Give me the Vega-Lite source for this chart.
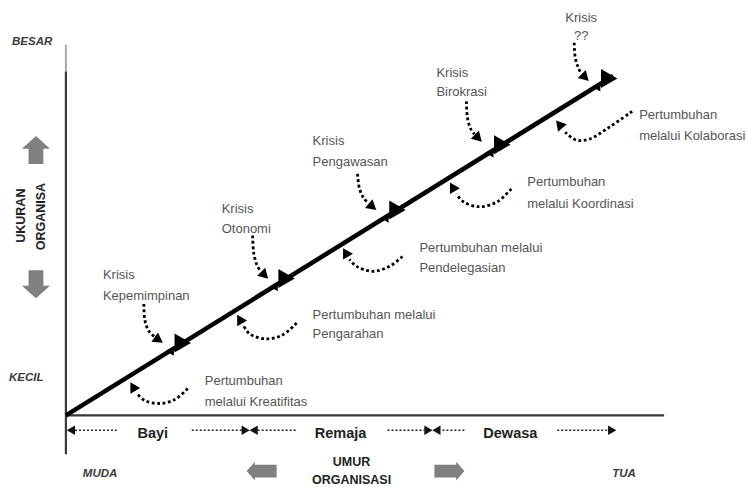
{
  "$schema": "https://vega.github.io/schema/vega-lite/v6.json",
  "width": 746,
  "height": 487,
  "autosize": {"type": "fit", "contains": "padding"},
  "padding": 0,
  "background": "white",
  "config": {"view": {"stroke": null}},
  "datasets": {
    "axisDark": [{"x": 0, "y": 86.5, "x2": 0, "y2": -9.75}, {"x": 0, "y": 0, "x2": 99.83, "y2": 0}],
    "axisTop": [{"x": 0, "y": 93.25, "x2": 0, "y2": 86.5}],
    "growthLine": [{"x": 0, "y": 0, "x2": 91.33, "y2": 85.38}],
    "stageDots": [
      {"x": 1.5, "x2": 8.5, "y": -3.75}, {"x": 21, "x2": 29.5, "y": -3.75},
      {"x": 32, "x2": 38.5, "y": -3.75}, {"x": 53.67, "x2": 59.83, "y": -3.75},
      {"x": 62.83, "x2": 66.83, "y": -3.75}, {"x": 82, "x2": 90.33, "y": -3.75}
    ],
    "curves": [
      {"id": "c1", "i": 0, "x": 13, "y": 28}, {"id": "c1", "i": 1, "x": 13.17, "y": 24}, {"id": "c1", "i": 2, "x": 13.83, "y": 21.25}, {"id": "c1", "i": 3, "x": 14.83, "y": 19.75},
      {"id": "c2", "i": 0, "x": 31.17, "y": 45.25}, {"id": "c2", "i": 1, "x": 31.33, "y": 41}, {"id": "c2", "i": 2, "x": 31.83, "y": 38}, {"id": "c2", "i": 3, "x": 32.5, "y": 36.25},
      {"id": "c3", "i": 0, "x": 48.67, "y": 60.75}, {"id": "c3", "i": 1, "x": 49, "y": 57}, {"id": "c3", "i": 2, "x": 49.67, "y": 54.75}, {"id": "c3", "i": 3, "x": 50.5, "y": 53.25},
      {"id": "c4", "i": 0, "x": 66.83, "y": 79}, {"id": "c4", "i": 1, "x": 67, "y": 75}, {"id": "c4", "i": 2, "x": 67.5, "y": 72.25}, {"id": "c4", "i": 3, "x": 68.17, "y": 70.75},
      {"id": "c5", "i": 0, "x": 84.83, "y": 93.75}, {"id": "c5", "i": 1, "x": 85, "y": 90}, {"id": "c5", "i": 2, "x": 85.5, "y": 87.5}, {"id": "c5", "i": 3, "x": 86, "y": 86},
      {"id": "g1", "i": 0, "x": 20.33, "y": 6.75}, {"id": "g1", "i": 1, "x": 18.17, "y": 4}, {"id": "g1", "i": 2, "x": 15.67, "y": 3}, {"id": "g1", "i": 3, "x": 13.17, "y": 3.75}, {"id": "g1", "i": 4, "x": 11.83, "y": 5.5},
      {"id": "g2", "i": 0, "x": 38.5, "y": 23.25}, {"id": "g2", "i": 1, "x": 36.17, "y": 20.25}, {"id": "g2", "i": 2, "x": 33.5, "y": 19.25}, {"id": "g2", "i": 3, "x": 30.67, "y": 20.5}, {"id": "g2", "i": 4, "x": 29.67, "y": 22.5},
      {"id": "g3", "i": 0, "x": 56.17, "y": 40}, {"id": "g3", "i": 1, "x": 54, "y": 37.5}, {"id": "g3", "i": 2, "x": 51.17, "y": 36.25}, {"id": "g3", "i": 3, "x": 48.5, "y": 37.5}, {"id": "g3", "i": 4, "x": 47.33, "y": 39.25},
      {"id": "g4", "i": 0, "x": 74.33, "y": 57}, {"id": "g4", "i": 1, "x": 72, "y": 53.75}, {"id": "g4", "i": 2, "x": 69, "y": 52.5}, {"id": "g4", "i": 3, "x": 66.33, "y": 53.75}, {"id": "g4", "i": 4, "x": 65.17, "y": 55.75},
      {"id": "g5", "i": 0, "x": 94.5, "y": 76.5}, {"id": "g5", "i": 1, "x": 90.67, "y": 72.5}, {"id": "g5", "i": 2, "x": 87.33, "y": 69.5}, {"id": "g5", "i": 3, "x": 85.17, "y": 69.25}, {"id": "g5", "i": 4, "x": 83.33, "y": 71.25}
    ],
    "heads": [
      {"x": 15.5, "y": 19, "dir": 125}, {"x": 33.17, "y": 35.25, "dir": 135}, {"x": 51.17, "y": 52.5, "dir": 130},
      {"x": 68.83, "y": 69.75, "dir": 135}, {"x": 86.67, "y": 85, "dir": 135},
      {"x": 11.17, "y": 7.25, "dir": 330}, {"x": 29, "y": 24.25, "dir": 330}, {"x": 46.67, "y": 41, "dir": 330},
      {"x": 64.5, "y": 57.5, "dir": 330}, {"x": 82.33, "y": 73.25, "dir": 320}
    ],
    "bigTri": [
      {"x": 19.5, "y": 18.23}, {"x": 36.83, "y": 34.43}, {"x": 55.33, "y": 51.7}, {"x": 72.83, "y": 68.08}, {"x": 90.67, "y": 84.75}
    ],
    "notch": [
      {"x": 17.33, "y": 16.2}, {"x": 34.67, "y": 32.4}, {"x": 53.17, "y": 49.68}, {"x": 70.67, "y": 66.05}, {"x": 88.5, "y": 82.7}
    ],
    "stageLeft": [{"x": 0.83, "y": -3.75}, {"x": 31.33, "y": -3.75}, {"x": 61.83, "y": -3.75}],
    "stageRight": [{"x": 30, "y": -3.75}, {"x": 60.5, "y": -3.75}, {"x": 91.17, "y": -3.75}],
    "blockV": [{"x": -5, "y": 66.75, "dir": 0}, {"x": -5, "y": 33, "dir": 180}],
    "blockH": [{"x": 32.67, "y": -14, "dir": 0}, {"x": 64, "y": -14, "dir": 180}],
    "grayText": [
      {"x": 6.17, "y": 35.25, "t": "Krisis"}, {"x": 6.17, "y": 30, "t": "Kepemimpinan"},
      {"x": 26, "y": 52, "t": "Krisis"}, {"x": 26, "y": 47, "t": "Otonomi"},
      {"x": 41.17, "y": 69, "t": "Krisis"}, {"x": 41.17, "y": 63.75, "t": "Pengawasan"},
      {"x": 61.83, "y": 86.25, "t": "Krisis"}, {"x": 61.83, "y": 81.25, "t": "Birokrasi"},
      {"x": 23.17, "y": 8.75, "t": "Pertumbuhan"}, {"x": 23.17, "y": 3.5, "t": "melalui Kreatifitas"},
      {"x": 41.17, "y": 25.25, "t": "Pertumbuhan melalui"}, {"x": 41.17, "y": 20.5, "t": "Pengarahan"},
      {"x": 59, "y": 42, "t": "Pertumbuhan melalui"}, {"x": 59, "y": 37, "t": "Pendelegasian"},
      {"x": 77, "y": 58.75, "t": "Pertumbuhan"}, {"x": 77, "y": 53.25, "t": "melalui Koordinasi"},
      {"x": 95.67, "y": 75.5, "t": "Pertumbuhan"}, {"x": 95.67, "y": 70.25, "t": "melalui Kolaborasi"}
    ],
    "grayTextC": [{"x": 86, "y": 100, "t": "Krisis"}, {"x": 86, "y": 95.5, "t": "??"}],
    "italicText": [
      {"x": -9, "y": 94, "t": "BESAR"}, {"x": -9.5, "y": 9.5, "t": "KECIL"},
      {"x": 2.83, "y": -14.75, "t": "MUDA"}, {"x": 91.17, "y": -14.75, "t": "TUA"}
    ],
    "stageText": [{"x": 14.5, "y": -4.6, "t": "Bayi"}, {"x": 45.83, "y": -4.6, "t": "Remaja"}, {"x": 74.17, "y": -4.6, "t": "Dewasa"}],
    "ageText": [{"x": 47.67, "y": -11.75, "t": "UMUR"}, {"x": 47.67, "y": -16.25, "t": "ORGANISASI"}],
    "sizeText": [{"x": -7.5, "y": 50.25, "t": "UKURAN"}, {"x": -4.17, "y": 50, "t": "ORGANISA"}]
  },
  "encoding": {
    "x": {"field": "x", "type": "quantitative", "scale": {"domain": [-11, 113.333], "nice": false, "zero": false}, "axis": null},
    "y": {"field": "y", "type": "quantitative", "scale": {"domain": [-17.25, 104.5], "nice": false, "zero": false}, "axis": null}
  },
  "layer": [
    {"data": {"name": "axisTop"}, "mark": {"type": "rule", "stroke": "#aaaaaa", "strokeWidth": 2},
     "encoding": {"x2": {"field": "x2"}, "y2": {"field": "y2"}}},
    {"data": {"name": "axisDark"}, "mark": {"type": "rule", "stroke": "#3a3a3a", "strokeWidth": 2.2},
     "encoding": {"x2": {"field": "x2"}, "y2": {"field": "y2"}}},
    {"data": {"name": "growthLine"}, "mark": {"type": "rule", "stroke": "#000000", "strokeWidth": 4.5},
     "encoding": {"x2": {"field": "x2"}, "y2": {"field": "y2"}}},
    {"data": {"name": "stageDots"}, "mark": {"type": "rule", "stroke": "#222222", "strokeWidth": 1.5, "strokeDash": [2, 2]},
     "encoding": {"x2": {"field": "x2"}}},
    {"data": {"name": "curves"}, "mark": {"type": "line", "stroke": "#000000", "strokeWidth": 2.8, "strokeDash": [2.8, 2.6], "interpolate": "catmull-rom"},
     "encoding": {"detail": {"field": "id"}, "order": {"field": "i", "type": "quantitative"}}},
    {"data": {"name": "heads"}, "mark": {"type": "point", "shape": "triangle-up", "filled": true, "color": "#000000", "size": 130, "opacity": 1},
     "encoding": {"angle": {"field": "dir", "type": "quantitative", "scale": null}}},
    {"data": {"name": "notch"}, "mark": {"type": "point", "shape": "triangle-left", "filled": true, "color": "#000000", "size": 90, "opacity": 1}},
    {"data": {"name": "bigTri"}, "mark": {"type": "point", "shape": "triangle-right", "filled": true, "color": "#000000", "size": 360, "opacity": 1}},
    {"data": {"name": "stageLeft"}, "mark": {"type": "point", "shape": "triangle-left", "filled": true, "color": "#111111", "size": 90, "opacity": 1}},
    {"data": {"name": "stageRight"}, "mark": {"type": "point", "shape": "triangle-right", "filled": true, "color": "#111111", "size": 90, "opacity": 1}},
    {"data": {"name": "blockV"}, "mark": {"type": "point", "shape": "M0,-1L1,-0.1L0.53,-0.1L0.53,1L-0.53,1L-0.53,-0.1L-1,-0.1Z", "filled": true, "color": "#808080", "size": 784, "opacity": 1},
     "encoding": {"angle": {"field": "dir", "type": "quantitative", "scale": null}}},
    {"data": {"name": "blockH"}, "mark": {"type": "point", "shape": "M-1,0L-0.45,-0.63L-0.45,-0.42L1,-0.42L1,0.42L-0.45,0.42L-0.45,0.63Z", "filled": true, "color": "#808080", "size": 900, "opacity": 1},
     "encoding": {"angle": {"field": "dir", "type": "quantitative", "scale": null}}},
    {"data": {"name": "grayText"}, "mark": {"type": "text", "align": "left", "baseline": "middle", "font": "Liberation Sans", "fontSize": 13, "color": "#555555"},
     "encoding": {"text": {"field": "t"}}},
    {"data": {"name": "grayTextC"}, "mark": {"type": "text", "align": "center", "baseline": "middle", "font": "Liberation Sans", "fontSize": 13, "color": "#555555"},
     "encoding": {"text": {"field": "t"}}},
    {"data": {"name": "italicText"}, "mark": {"type": "text", "align": "left", "baseline": "middle", "font": "Liberation Sans", "fontSize": 11.5, "fontStyle": "italic", "fontWeight": "bold", "color": "#3a3a3a"},
     "encoding": {"text": {"field": "t"}}},
    {"data": {"name": "stageText"}, "mark": {"type": "text", "align": "center", "baseline": "middle", "font": "Liberation Sans", "fontSize": 14.5, "fontWeight": "bold", "color": "#222222"},
     "encoding": {"text": {"field": "t"}}},
    {"data": {"name": "ageText"}, "mark": {"type": "text", "align": "center", "baseline": "middle", "font": "Liberation Sans", "fontSize": 12.5, "fontWeight": "bold", "color": "#222222"},
     "encoding": {"text": {"field": "t"}}},
    {"data": {"name": "sizeText"}, "mark": {"type": "text", "align": "center", "baseline": "middle", "font": "Liberation Sans", "fontSize": 12.5, "fontWeight": "bold", "color": "#222222", "angle": 270},
     "encoding": {"text": {"field": "t"}}}
  ]
}
